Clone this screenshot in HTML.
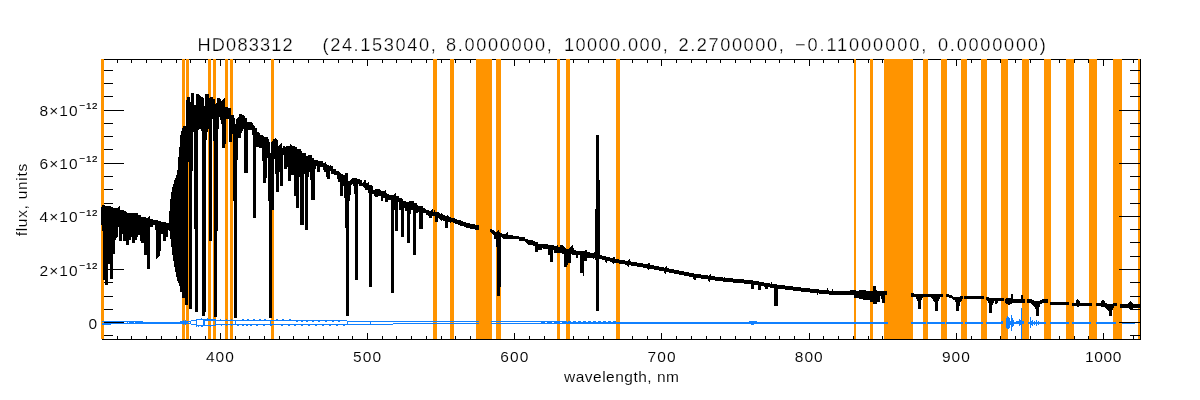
<!DOCTYPE html>
<html><head><meta charset="utf-8"><title>HD083312</title>
<style>
html,body{margin:0;padding:0;background:#fff;}
body{width:1200px;height:400px;overflow:hidden;}
svg{display:block;}
text{font-family:"Liberation Sans",sans-serif;fill:#000;stroke:#fff;stroke-width:0.1px;}
</style></head><body>
<svg width="1200" height="400" viewBox="0 0 1200 400">
<rect width="1200" height="400" fill="#fff"/>
<g shape-rendering="crispEdges">
<path fill="#000" d="M102 59h1039v1h-1039zM102 339h1039v1h-1039zM102 59h1v281h-1zM117 60h1v3h-1zM117 336h1v3h-1zM131 60h1v3h-1zM131 336h1v3h-1zM146 60h1v3h-1zM146 336h1v3h-1zM161 60h1v3h-1zM161 336h1v3h-1zM176 60h1v3h-1zM176 336h1v3h-1zM190 60h1v3h-1zM190 336h1v3h-1zM205 60h1v3h-1zM205 336h1v3h-1zM220 60h1v6h-1zM220 333h1v6h-1zM235 60h1v3h-1zM235 336h1v3h-1zM249 60h1v3h-1zM249 336h1v3h-1zM264 60h1v3h-1zM264 336h1v3h-1zM279 60h1v3h-1zM279 336h1v3h-1zM293 60h1v3h-1zM293 336h1v3h-1zM308 60h1v3h-1zM308 336h1v3h-1zM323 60h1v3h-1zM323 336h1v3h-1zM338 60h1v3h-1zM338 336h1v3h-1zM352 60h1v3h-1zM352 336h1v3h-1zM367 60h1v6h-1zM367 333h1v6h-1zM382 60h1v3h-1zM382 336h1v3h-1zM396 60h1v3h-1zM396 336h1v3h-1zM411 60h1v3h-1zM411 336h1v3h-1zM426 60h1v3h-1zM426 336h1v3h-1zM441 60h1v3h-1zM441 336h1v3h-1zM455 60h1v3h-1zM455 336h1v3h-1zM470 60h1v3h-1zM470 336h1v3h-1zM485 60h1v3h-1zM485 336h1v3h-1zM500 60h1v3h-1zM500 336h1v3h-1zM514 60h1v6h-1zM514 333h1v6h-1zM529 60h1v3h-1zM529 336h1v3h-1zM544 60h1v3h-1zM544 336h1v3h-1zM558 60h1v3h-1zM558 336h1v3h-1zM573 60h1v3h-1zM573 336h1v3h-1zM588 60h1v3h-1zM588 336h1v3h-1zM603 60h1v3h-1zM603 336h1v3h-1zM617 60h1v3h-1zM617 336h1v3h-1zM632 60h1v3h-1zM632 336h1v3h-1zM647 60h1v3h-1zM647 336h1v3h-1zM661 60h1v6h-1zM661 333h1v6h-1zM676 60h1v3h-1zM676 336h1v3h-1zM691 60h1v3h-1zM691 336h1v3h-1zM706 60h1v3h-1zM706 336h1v3h-1zM720 60h1v3h-1zM720 336h1v3h-1zM735 60h1v3h-1zM735 336h1v3h-1zM750 60h1v3h-1zM750 336h1v3h-1zM765 60h1v3h-1zM765 336h1v3h-1zM779 60h1v3h-1zM779 336h1v3h-1zM794 60h1v3h-1zM794 336h1v3h-1zM809 60h1v6h-1zM809 333h1v6h-1zM823 60h1v3h-1zM823 336h1v3h-1zM838 60h1v3h-1zM838 336h1v3h-1zM853 60h1v3h-1zM853 336h1v3h-1zM868 60h1v3h-1zM868 336h1v3h-1zM882 60h1v3h-1zM882 336h1v3h-1zM897 60h1v3h-1zM897 336h1v3h-1zM912 60h1v3h-1zM912 336h1v3h-1zM926 60h1v3h-1zM926 336h1v3h-1zM941 60h1v3h-1zM941 336h1v3h-1zM956 60h1v6h-1zM956 333h1v6h-1zM971 60h1v3h-1zM971 336h1v3h-1zM985 60h1v3h-1zM985 336h1v3h-1zM1000 60h1v3h-1zM1000 336h1v3h-1zM1015 60h1v3h-1zM1015 336h1v3h-1zM1030 60h1v3h-1zM1030 336h1v3h-1zM1044 60h1v3h-1zM1044 336h1v3h-1zM1059 60h1v3h-1zM1059 336h1v3h-1zM1074 60h1v3h-1zM1074 336h1v3h-1zM1088 60h1v3h-1zM1088 336h1v3h-1zM1103 60h1v6h-1zM1103 333h1v6h-1zM1118 60h1v3h-1zM1118 336h1v3h-1zM1133 60h1v3h-1zM1133 336h1v3h-1zM103 335h10v1h-10zM103 322h21v1h-21zM103 309h10v1h-10zM103 296h10v1h-10zM103 282h10v1h-10zM103 269h21v1h-21zM103 256h10v1h-10zM103 242h10v1h-10zM103 229h10v1h-10zM103 216h21v1h-21zM103 203h10v1h-10zM103 189h10v1h-10zM103 176h10v1h-10zM103 163h21v1h-21zM103 149h10v1h-10zM103 136h10v1h-10zM103 123h10v1h-10zM103 110h21v1h-21zM103 96h10v1h-10zM103 83h10v1h-10zM103 70h10v1h-10z"/>
<path fill="#ff9400" d="M101 59h3v280h-3zM182 59h3v280h-3zM186 59h3v280h-3zM208 59h3v280h-3zM213 59h3v280h-3zM225 59h3v280h-3zM230 59h3v280h-3zM271 59h3v280h-3zM433 59h4v280h-4zM450 59h4v280h-4zM476 59h16v280h-16zM496 59h5v280h-5zM557 59h3v280h-3zM566 59h4v280h-4zM616 59h4v280h-4zM854 59h2v280h-2zM870 59h3v280h-3zM884 59h29v280h-29zM923 59h5v280h-5zM941 59h6v280h-6zM961 59h6v280h-6zM981 59h6v280h-6zM1001 59h7v280h-7zM1022 59h7v280h-7zM1044 59h7v280h-7zM1066 59h8v280h-8zM1089 59h8v280h-8zM1113 59h9v280h-9zM1138 59h2v280h-2z"/>
<path fill="#000" d="M101 207h1v18h-1zM102 205h1v26h-1zM103 205h2v75h-2zM105 206h3v79h-3zM108 206h2v58h-2zM110 206h1v73h-1zM111 207h2v72h-2zM113 208h2v46h-2zM115 208h1v32h-1zM116 208h1v30h-1zM117 208h1v29h-1zM118 207h1v20h-1zM119 206h1v35h-1zM120 210h2v31h-2zM122 210h1v24h-1zM123 210h1v31h-1zM124 211h2v30h-2zM126 212h1v33h-1zM127 213h2v32h-2zM129 213h2v27h-2zM131 213h1v24h-1zM132 213h3v30h-3zM135 213h2v27h-2zM137 213h1v24h-1zM138 215h2v20h-2zM140 215h1v26h-1zM141 217h3v26h-3zM144 217h2v38h-2zM146 218h1v37h-1zM147 218h1v51h-1zM148 217h1v52h-1zM149 216h1v53h-1zM150 219h3v8h-3zM153 220h2v5h-2zM155 220h1v10h-1zM156 220h1v39h-1zM157 220h1v38h-1zM158 221h1v36h-1zM159 221h1v35h-1zM160 221h1v30h-1zM161 222h2v12h-2zM163 222h3v19h-3zM166 223h2v14h-2zM168 223h1v7h-1zM169 211h1v20h-1zM170 199h1v40h-1zM171 192h1v55h-1zM172 187h1v68h-1zM173 184h1v77h-1zM174 180h1v87h-1zM175 178h1v94h-1zM176 175h1v102h-1zM177 170h1v111h-1zM178 157h1v126h-1zM179 147h1v139h-1zM180 135h1v157h-1zM181 131h1v161h-1zM182 128h1v170h-1zM183 126h2v172h-2zM185 126h1v179h-1zM186 100h1v205h-1zM187 97h1v208h-1zM188 97h1v65h-1zM189 97h1v212h-1zM190 102h1v207h-1zM191 93h1v216h-1zM192 93h1v78h-1zM193 93h1v39h-1zM194 105h1v124h-1zM195 105h1v207h-1zM196 94h2v218h-2zM198 94h1v36h-1zM199 95h1v34h-1zM200 96h1v33h-1zM201 97h1v34h-1zM202 97h1v219h-1zM203 98h1v218h-1zM204 106h1v210h-1zM205 94h1v218h-1zM206 94h1v46h-1zM207 94h1v38h-1zM208 94h1v35h-1zM209 98h1v143h-1zM210 97h2v144h-2zM212 97h1v22h-1zM213 99h1v42h-1zM214 99h1v218h-1zM215 104h1v213h-1zM216 103h1v214h-1zM217 98h1v133h-1zM218 98h1v31h-1zM219 98h1v19h-1zM220 99h1v21h-1zM221 101h1v23h-1zM222 100h1v48h-1zM223 99h1v49h-1zM224 98h1v50h-1zM225 107h1v37h-1zM226 107h2v12h-2zM228 108h1v11h-1zM229 108h2v34h-2zM231 115h1v27h-1zM232 115h1v19h-1zM233 115h1v86h-1zM234 118h1v200h-1zM235 124h1v194h-1zM236 119h1v199h-1zM237 118h1v42h-1zM238 117h1v21h-1zM239 114h2v24h-2zM241 114h1v19h-1zM242 115h1v16h-1zM243 115h1v14h-1zM244 116h1v57h-1zM245 118h2v55h-2zM247 122h1v51h-1zM248 122h4v8h-4zM252 123h1v12h-1zM253 125h1v93h-1zM254 126h1v92h-1zM255 128h1v90h-1zM256 128h1v19h-1zM257 132h2v15h-2zM259 133h1v15h-1zM260 135h2v13h-2zM262 135h1v26h-1zM263 136h1v47h-1zM264 137h2v46h-2zM266 137h1v41h-1zM267 137h1v21h-1zM268 139h1v62h-1zM269 142h1v176h-1zM270 153h1v165h-1zM271 142h1v176h-1zM272 141h1v69h-1zM273 139h1v71h-1zM274 139h1v20h-1zM275 138h1v36h-1zM276 139h1v53h-1zM277 140h1v52h-1zM278 146h1v46h-1zM279 145h1v27h-1zM280 144h1v42h-1zM281 143h1v43h-1zM282 148h1v38h-1zM283 146h1v9h-1zM284 146h1v23h-1zM285 147h1v22h-1zM286 146h1v23h-1zM287 146h1v21h-1zM288 146h2v35h-2zM290 144h1v37h-1zM291 145h1v30h-1zM292 146h2v29h-2zM294 146h1v50h-1zM295 147h1v49h-1zM296 147h1v61h-1zM297 149h2v59h-2zM299 149h1v28h-1zM300 149h1v76h-1zM301 151h1v74h-1zM302 153h2v72h-2zM304 153h1v21h-1zM305 153h1v77h-1zM306 156h2v74h-2zM308 155h1v22h-1zM309 155h1v17h-1zM310 155h1v25h-1zM311 155h1v45h-1zM312 158h2v42h-2zM314 160h1v40h-1zM315 160h1v9h-1zM316 160h1v6h-1zM317 160h1v12h-1zM318 161h2v11h-2zM320 161h3v6h-3zM323 163h1v7h-1zM324 163h1v9h-1zM325 162h1v10h-1zM326 164h1v13h-1zM327 165h2v14h-2zM329 166h1v13h-1zM330 165h1v6h-1zM331 166h2v8h-2zM333 169h1v5h-1zM334 169h2v6h-2zM336 171h1v4h-1zM337 171h1v8h-1zM338 171h1v11h-1zM339 172h1v10h-1zM340 173h1v23h-1zM341 174h2v22h-2zM343 175h1v11h-1zM344 175h1v23h-1zM345 173h1v55h-1zM346 173h2v143h-2zM348 181h1v135h-1zM349 181h1v20h-1zM350 180h1v15h-1zM351 179h1v6h-1zM352 178h1v6h-1zM353 178h1v8h-1zM354 178h1v16h-1zM355 178h2v102h-2zM357 179h1v101h-1zM358 179h1v5h-1zM359 179h1v7h-1zM360 180h2v6h-2zM362 183h1v3h-1zM363 182h1v5h-1zM364 180h1v8h-1zM365 180h1v10h-1zM366 183h2v7h-2zM368 182h1v11h-1zM369 185h3v102h-3zM372 186h1v8h-1zM373 190h1v4h-1zM374 190h1v6h-1zM375 189h3v8h-3zM378 189h2v7h-2zM380 190h1v6h-1zM381 191h2v10h-2zM383 191h2v7h-2zM385 190h1v12h-1zM386 193h1v9h-1zM387 194h1v8h-1zM388 194h1v6h-1zM389 195h2v5h-2zM391 195h3v98h-3zM394 194h1v16h-1zM395 193h1v38h-1zM396 196h2v35h-2zM398 196h1v6h-1zM399 198h2v12h-2zM401 198h1v39h-1zM402 199h1v38h-1zM403 201h1v36h-1zM404 201h1v7h-1zM405 201h1v10h-1zM406 202h1v9h-1zM407 202h2v41h-2zM409 201h1v42h-1zM410 201h1v13h-1zM411 201h2v9h-2zM413 201h1v54h-1zM414 203h2v52h-2zM416 203h1v10h-1zM417 205h1v8h-1zM418 206h1v6h-1zM419 206h4v23h-4zM423 208h2v5h-2zM425 209h1v4h-1zM426 210h2v5h-2zM428 210h1v6h-1zM429 211h2v7h-2zM431 210h1v8h-1zM432 209h1v7h-1zM433 212h1v4h-1zM434 210h1v6h-1zM435 212h3v10h-3zM438 212h1v6h-1zM439 213h1v6h-1zM440 214h1v6h-1zM441 213h1v8h-1zM442 214h1v6h-1zM443 215h2v6h-2zM445 216h2v12h-2zM447 215h1v13h-1zM448 216h1v6h-1zM449 217h1v5h-1zM450 217h1v6h-1zM451 218h2v4h-2zM453 218h2v5h-2zM455 219h2v5h-2zM457 220h1v4h-1zM458 220h2v5h-2zM460 220h1v6h-1zM461 221h2v5h-2zM463 222h1v4h-1zM464 222h2v5h-2zM466 223h4v5h-4zM470 224h5v5h-5zM475 225h4v5h-4zM490 229h1v3h-1zM491 229h1v4h-1zM492 230h1v4h-1zM493 230h1v5h-1zM494 231h1v8h-1zM495 232h1v7h-1zM496 232h1v15h-1zM497 231h1v65h-1zM498 230h1v66h-1zM499 232h1v64h-1zM500 233h1v54h-1zM501 233h1v4h-1zM502 234h1v4h-1zM503 234h3v5h-3zM506 233h1v6h-1zM507 232h1v7h-1zM508 235h5v4h-5zM513 236h6v3h-6zM519 237h6v4h-6zM525 239h1v3h-1zM526 239h1v4h-1zM527 239h1v5h-1zM528 240h5v5h-5zM533 241h2v5h-2zM535 242h3v10h-3zM538 244h4v6h-4zM542 244h1v4h-1zM543 244h5v5h-5zM548 245h2v10h-2zM550 245h3v17h-3zM553 245h1v5h-1zM554 246h3v7h-3zM557 245h1v8h-1zM558 247h2v6h-2zM560 245h2v8h-2zM562 245h1v9h-1zM563 246h1v8h-1zM564 247h1v20h-1zM565 248h1v19h-1zM566 249h1v18h-1zM567 249h1v16h-1zM568 249h1v14h-1zM569 248h1v15h-1zM570 247h1v16h-1zM571 246h1v8h-1zM572 245h1v10h-1zM573 248h1v7h-1zM574 250h2v5h-2zM576 251h2v7h-2zM578 251h2v4h-2zM580 251h3v22h-3zM583 251h1v25h-1zM584 251h1v10h-1zM585 250h2v11h-2zM587 252h3v6h-3zM590 253h3v5h-3zM593 253h1v6h-1zM594 252h1v6h-1zM595 209h1v51h-1zM596 135h3v176h-3zM599 180h1v79h-1zM600 255h2v4h-2zM602 256h3v4h-3zM605 256h1v6h-1zM606 257h1v6h-1zM607 257h3v4h-3zM610 258h2v4h-2zM612 258h1v5h-1zM613 257h1v7h-1zM614 257h1v6h-1zM615 259h4v4h-4zM619 260h6v4h-6zM625 261h2v4h-2zM627 261h1v5h-1zM628 260h1v7h-1zM629 259h1v6h-1zM630 261h1v4h-1zM631 262h6v4h-6zM637 263h6v4h-6zM643 264h4v4h-4zM647 264h1v5h-1zM648 263h1v7h-1zM649 263h1v6h-1zM650 265h4v4h-4zM654 266h5v4h-5zM659 267h5v4h-5zM664 268h1v5h-1zM665 267h1v7h-1zM666 266h1v6h-1zM667 268h2v4h-2zM669 269h5v4h-5zM674 270h5v4h-5zM679 271h5v4h-5zM684 272h5v4h-5zM689 273h4v4h-4zM693 273h1v6h-1zM694 274h2v6h-2zM696 274h5v4h-5zM701 275h7v4h-7zM708 276h1v5h-1zM709 275h1v7h-1zM710 274h1v6h-1zM711 276h4v4h-4zM715 277h8v4h-8zM723 278h1v4h-1zM724 277h1v5h-1zM725 278h8v4h-8zM733 279h11v4h-11zM744 280h7v4h-7zM751 280h2v9h-2zM753 281h1v8h-1zM754 281h4v4h-4zM758 281h1v9h-1zM759 282h2v8h-2zM761 282h3v4h-3zM764 283h1v4h-1zM765 283h3v6h-3zM768 283h2v4h-2zM770 284h1v4h-1zM771 282h1v6h-1zM772 284h2v4h-2zM774 284h3v22h-3zM777 285h1v21h-1zM778 285h7v4h-7zM785 286h8v4h-8zM793 287h8v4h-8zM801 288h9v4h-9zM810 289h7v4h-7zM817 289h1v6h-1zM818 289h1v4h-1zM819 290h8v4h-8zM827 288h1v6h-1zM828 290h1v4h-1zM829 291h3v4h-3zM832 289h1v6h-1zM833 291h17v4h-17zM850 290h4v5h-4zM854 290h2v8h-2zM856 291h3v7h-3zM859 290h4v9h-4zM863 290h3v10h-3zM866 291h4v9h-4zM870 291h3v11h-3zM873 286h3v18h-3zM876 290h1v14h-1zM877 291h3v11h-3zM880 291h1v5h-1zM881 291h1v8h-1zM882 291h3v12h-3zM885 291h2v4h-2zM911 293h3v4h-3zM914 294h2v3h-2zM916 294h1v5h-1zM917 294h1v7h-1zM918 294h3v15h-3zM921 294h1v6h-1zM922 294h1v4h-1zM923 294h8v3h-8zM931 294h1v4h-1zM932 294h1v5h-1zM933 294h1v7h-1zM934 294h1v8h-1zM935 294h3v17h-3zM938 294h1v7h-1zM939 294h1v5h-1zM940 294h3v3h-3zM946 294h3v3h-3zM949 295h3v3h-3zM952 296h1v3h-1zM953 297h2v3h-2zM955 297h1v5h-1zM956 297h3v14h-3zM959 297h1v9h-1zM960 296h1v6h-1zM961 296h1v5h-1zM962 296h1v3h-1zM964 296h20v3h-20zM986 297h1v3h-1zM987 297h1v4h-1zM988 297h1v6h-1zM989 298h3v15h-3zM992 298h1v7h-1zM993 298h1v5h-1zM994 298h1v3h-1zM995 298h2v6h-2zM997 298h1v5h-1zM998 298h6v3h-6zM1005 299h1v4h-1zM1006 298h2v6h-2zM1008 298h2v7h-2zM1010 298h1v6h-1zM1011 294h1v10h-1zM1012 294h1v9h-1zM1013 299h8v4h-8zM1021 295h2v8h-2zM1023 299h2v4h-2zM1027 299h4v4h-4zM1031 299h1v5h-1zM1032 300h1v5h-1zM1033 300h1v6h-1zM1034 301h1v6h-1zM1035 301h1v8h-1zM1036 301h3v15h-3zM1039 301h1v6h-1zM1040 300h2v4h-2zM1042 299h6v4h-6zM1050 302h19v3h-19zM1072 303h4v3h-4zM1076 300h1v6h-1zM1077 299h1v8h-1zM1078 300h1v7h-1zM1079 301h1v5h-1zM1080 303h12v3h-12zM1096 303h5v3h-5zM1101 301h1v6h-1zM1102 300h2v7h-2zM1104 301h1v6h-1zM1105 303h1v5h-1zM1106 303h1v6h-1zM1107 304h1v6h-1zM1108 304h1v7h-1zM1109 304h3v12h-3zM1112 304h1v6h-1zM1113 303h1v5h-1zM1114 303h3v3h-3zM1120 304h8v4h-8zM1128 303h1v5h-1zM1129 302h1v7h-1zM1130 301h1v8h-1zM1131 302h1v7h-1zM1132 303h1v6h-1zM1133 304h8v4h-8z"/>
<path fill="#1080ff" d="M102 321h9v1h-9zM102 323h9v1h-9zM102 324h9v1h-9zM111 321h16v1h-16zM111 323h16v1h-16zM127 321h16v1h-16zM127 322h16v1h-16zM127 323h16v1h-16zM143 322h37v1h-37zM143 323h37v1h-37zM180 321h8v1h-8zM180 322h8v1h-8zM180 323h8v1h-8zM183 320h1v5h-1zM185 320h1v5h-1zM188 321h3v1h-3zM188 323h3v1h-3zM191 320h5v1h-5zM191 324h5v1h-5zM190 321h1v3h-1zM196 319h1v8h-1zM197 319h6v1h-6zM197 325h6v1h-6zM201 318h1v1h-1zM198 326h1v1h-1zM201 326h2v1h-2zM203 319h2v7h-2zM205 319h11v1h-11zM205 320h11v1h-11zM205 325h11v1h-11zM210 326h1v1h-1zM207 318h1v1h-1zM215 319h1v7h-1zM216 320h19v1h-19zM216 324h19v1h-19zM220 319h1v1h-1zM226 319h1v1h-1zM231 319h1v1h-1zM221 325h1v1h-1zM226 325h1v1h-1zM231 325h1v1h-1zM235 320h1v5h-1zM236 320h111v1h-111zM236 324h111v1h-111zM242 319h2v1h-2zM247 319h2v1h-2zM253 319h2v1h-2zM259 319h2v1h-2zM264 319h2v1h-2zM276 319h2v1h-2zM282 319h2v1h-2zM289 319h2v1h-2zM296 321h2v1h-2zM301 321h2v1h-2zM306 321h2v1h-2zM312 321h2v1h-2zM318 321h2v1h-2zM325 321h2v1h-2zM332 321h2v1h-2zM338 321h2v1h-2zM237 325h2v1h-2zM242 325h2v1h-2zM246 325h2v1h-2zM250 325h2v1h-2zM256 325h2v1h-2zM263 325h2v1h-2zM270 325h2v1h-2zM281 325h2v1h-2zM288 325h2v1h-2zM294 325h2v1h-2zM301 325h2v1h-2zM308 325h2v1h-2zM315 325h2v1h-2zM322 325h2v1h-2zM329 325h2v1h-2zM336 325h2v1h-2zM343 325h2v1h-2zM270 320h1v5h-1zM347 321h46v1h-46zM347 324h46v1h-46zM347 321h1v4h-1zM370 321h1v4h-1zM393 321h86v1h-86zM393 323h86v1h-86zM491 321h50v1h-50zM491 323h50v1h-50zM541 321h26v1h-26zM541 322h26v1h-26zM541 323h26v1h-26zM567 322h51v1h-51zM567 323h51v1h-51zM568 321h1v1h-1zM569 321h1v1h-1zM570 321h1v1h-1zM573 321h1v1h-1zM574 321h1v1h-1zM575 321h1v1h-1zM578 321h1v1h-1zM579 321h1v1h-1zM580 321h1v1h-1zM583 321h1v1h-1zM584 321h1v1h-1zM585 321h1v1h-1zM588 321h1v1h-1zM589 321h1v1h-1zM590 321h1v1h-1zM593 321h1v1h-1zM594 321h1v1h-1zM595 321h1v1h-1zM598 321h1v1h-1zM599 321h1v1h-1zM600 321h1v1h-1zM603 321h1v1h-1zM604 321h1v1h-1zM605 321h1v1h-1zM608 321h1v1h-1zM609 321h1v1h-1zM610 321h1v1h-1zM613 321h1v1h-1zM614 321h1v1h-1zM615 321h1v1h-1zM618 322h270v1h-270zM618 323h270v1h-270zM749 321h8v1h-8zM751 324h3v1h-3zM911 322h15v1h-15zM911 323h15v1h-15zM927 322h18v1h-18zM927 323h18v1h-18zM946 322h17v1h-17zM946 323h17v1h-17zM965 322h18v1h-18zM965 323h18v1h-18zM986 322h17v1h-17zM986 323h17v1h-17zM1006 322h18v1h-18zM1006 323h18v1h-18zM1028 322h18v1h-18zM1028 323h18v1h-18zM1050 322h19v1h-19zM1050 323h19v1h-19zM1072 322h19v1h-19zM1072 323h19v1h-19zM1096 322h20v1h-20zM1096 323h20v1h-20zM1122 322h13v1h-13zM1122 323h13v1h-13zM1001 321h1v3h-1zM1002 321h1v3h-1zM1006 318h1v10h-1zM1007 316h1v13h-1zM1008 317h1v12h-1zM1009 318h1v10h-1zM1010 321h1v4h-1zM1011 315h1v16h-1zM1012 318h1v9h-1zM1013 320h1v6h-1zM1016 321h1v3h-1zM1017 321h1v3h-1zM1018 321h1v3h-1zM1019 319h1v7h-1zM1020 320h1v5h-1zM1021 308h1v31h-1zM1022 321h1v3h-1zM1023 321h1v3h-1zM1030 317h1v11h-1zM1031 321h1v4h-1zM1032 320h1v6h-1zM1034 321h1v4h-1zM1036 320h1v6h-1zM1038 321h1v4h-1z"/>
<path fill="#fff" d="M128 322h1v1h-1zM134 322h1v1h-1zM545 322h2v1h-2zM552 322h2v1h-2zM560 322h2v1h-2z"/>
<path fill="#000" d="M1140 59h1v281h-1zM1130 335h10v1h-10zM1119 322h21v1h-21zM1130 309h10v1h-10zM1130 296h10v1h-10zM1130 282h10v1h-10zM1119 269h21v1h-21zM1130 256h10v1h-10zM1130 242h10v1h-10zM1130 229h10v1h-10zM1119 216h21v1h-21zM1130 203h10v1h-10zM1130 189h10v1h-10zM1130 176h10v1h-10zM1119 163h21v1h-21zM1130 149h10v1h-10zM1130 136h10v1h-10zM1130 123h10v1h-10zM1119 110h21v1h-21zM1130 96h10v1h-10zM1130 83h10v1h-10zM1130 70h10v1h-10z"/>
</g>
<g>
<text x="197.5" y="50.6" font-size="18.2" text-anchor="start" textLength="95.2" lengthAdjust="spacing" style="stroke-width:0.25px">HD083312</text>
<text x="322.5" y="50.6" font-size="18.2" text-anchor="start" textLength="113.2" lengthAdjust="spacing" style="stroke-width:0.25px">(24.153040,</text>
<text x="446" y="50.6" font-size="18.2" text-anchor="start" textLength="105.7" lengthAdjust="spacing" style="stroke-width:0.25px">8.0000000,</text>
<text x="564" y="50.6" font-size="18.2" text-anchor="start" textLength="103.7" lengthAdjust="spacing" style="stroke-width:0.25px">10000.000,</text>
<text x="678.5" y="50.6" font-size="18.2" text-anchor="start" textLength="105.2" lengthAdjust="spacing" style="stroke-width:0.25px">2.2700000,</text>
<text x="795" y="50.6" font-size="18.2" text-anchor="start" textLength="131.2" lengthAdjust="spacing" style="stroke-width:0.25px">−0.11000000,</text>
<text x="938" y="50.6" font-size="18.2" text-anchor="start" textLength="107.7" lengthAdjust="spacing" style="stroke-width:0.25px">0.0000000)</text>
<text x="205.9" y="362.0" font-size="15.5" text-anchor="start" textLength="28" lengthAdjust="spacing">400</text>
<text x="353.1" y="362.0" font-size="15.5" text-anchor="start" textLength="28" lengthAdjust="spacing">500</text>
<text x="500.3" y="362.0" font-size="15.5" text-anchor="start" textLength="28" lengthAdjust="spacing">600</text>
<text x="647.5" y="362.0" font-size="15.5" text-anchor="start" textLength="28" lengthAdjust="spacing">700</text>
<text x="794.7" y="362.0" font-size="15.5" text-anchor="start" textLength="28" lengthAdjust="spacing">800</text>
<text x="941.9" y="362.0" font-size="15.5" text-anchor="start" textLength="28" lengthAdjust="spacing">900</text>
<text x="1084.9" y="362.0" font-size="15.5" text-anchor="start" textLength="36.4" lengthAdjust="spacing">1000</text>
<text x="564" y="382.2" font-size="15.5" text-anchor="start" textLength="115" lengthAdjust="spacing">wavelength, nm</text>
<text transform="translate(27.3,236.3) rotate(-90)" font-size="15.5" textLength="72.5" lengthAdjust="spacing">flux, units</text>
<text x="39.5" y="275.5" font-size="15.5" textLength="38" lengthAdjust="spacing">2×10</text><text x="79.5" y="268.6" font-size="9.8" style="stroke:#000;stroke-width:0.2px" textLength="18" lengthAdjust="spacing">−12</text>
<text x="39.5" y="222.4" font-size="15.5" textLength="38" lengthAdjust="spacing">4×10</text><text x="79.5" y="215.5" font-size="9.8" style="stroke:#000;stroke-width:0.2px" textLength="18" lengthAdjust="spacing">−12</text>
<text x="39.5" y="169.3" font-size="15.5" textLength="38" lengthAdjust="spacing">6×10</text><text x="79.5" y="162.4" font-size="9.8" style="stroke:#000;stroke-width:0.2px" textLength="18" lengthAdjust="spacing">−12</text>
<text x="39.5" y="116.2" font-size="15.5" textLength="38" lengthAdjust="spacing">8×10</text><text x="79.5" y="109.3" font-size="9.8" style="stroke:#000;stroke-width:0.2px" textLength="18" lengthAdjust="spacing">−12</text>
<text x="88.5" y="328.9" font-size="15.5" text-anchor="start">0</text>
</g>
</svg>
</body></html>
